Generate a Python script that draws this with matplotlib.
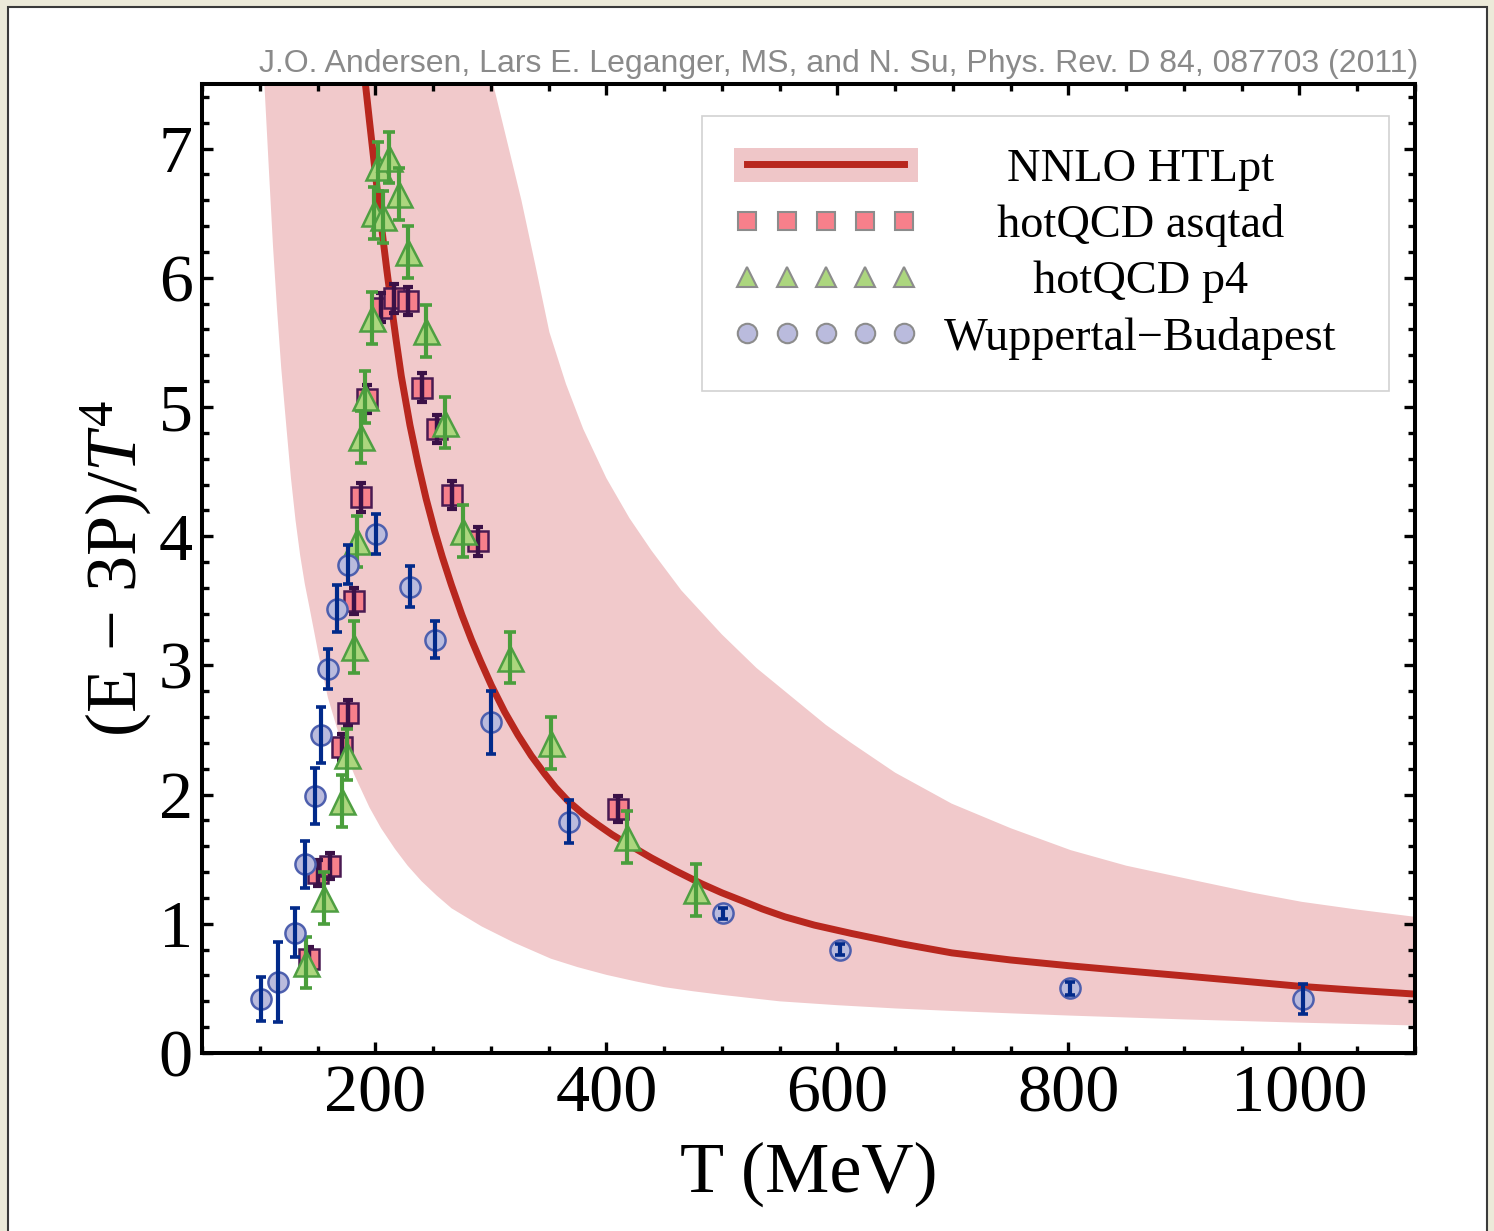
import numpy as np
import matplotlib
matplotlib.use("Agg")
import matplotlib.pyplot as plt
from matplotlib.patches import Rectangle, Patch
from matplotlib.lines import Line2D
from matplotlib.ticker import MultipleLocator

# ---------------- data ----------------
# NNLO HTLpt central curve
curve_T = [190.0, 195.0, 199.4, 203.0, 206.7, 210.0, 213.9, 218.0, 222.5, 230.0, 237.0,
           244.0, 251.4, 258.0, 265.8, 275.0, 283.2, 291.0, 300.5, 312.0, 323.6, 335.1,
           346.7, 356.0, 366.9, 380.0, 392.9, 405.0, 418.9, 439.0, 460.0, 482.4, 500.0,
           517.0, 535.0, 554.5, 580.0, 612.3, 655.6, 699.0, 750.0, 801.0, 850.0, 900.0,
           950.0, 1002.0, 1050.0, 1100.0]
curve_y = [7.62, 7.21, 6.86, 6.58, 6.30, 6.06, 5.79, 5.52, 5.24, 4.86, 4.56,
           4.29, 4.04, 3.84, 3.625, 3.39, 3.20, 3.035, 2.845, 2.64, 2.46, 2.30,
           2.16, 2.055, 1.95, 1.85, 1.765, 1.69, 1.615, 1.51, 1.41, 1.31, 1.24,
           1.18, 1.115, 1.054, 0.99, 0.925, 0.845, 0.775, 0.72, 0.675, 0.636, 0.597,
           0.557, 0.515, 0.485, 0.456]

# NNLO HTLpt uncertainty band
band_lo_T = [104, 108, 111.5, 115, 118.6, 123, 127, 131, 135, 139, 143, 151, 159, 170, 182,
             195, 205, 217, 228, 240, 253, 266, 292, 320, 352, 375, 400, 425, 450, 475,
             500, 550, 600, 650, 700, 750, 800, 900, 1000, 1100]
band_lo_y = [7.5, 6.82, 6.24, 5.75, 5.30, 4.85, 4.45, 4.12, 3.85, 3.63, 3.45, 3.08, 2.75, 2.42, 2.15,
             1.90, 1.74, 1.58, 1.45, 1.33, 1.22, 1.12, 0.98, 0.855, 0.73, 0.665, 0.605, 0.555, 0.51, 0.478,
             0.45, 0.40, 0.37, 0.345, 0.325, 0.307, 0.29, 0.26, 0.235, 0.213]
band_up_T = [302, 314, 326.5, 338.5, 350.7, 365, 380, 400, 420, 439, 465, 500, 530, 560,
             590, 612, 650, 699, 750, 802, 850, 915, 960, 1002, 1050, 1100]
band_up_y = [7.5, 7.06, 6.60, 6.10, 5.58, 5.18, 4.83, 4.45, 4.14, 3.89, 3.58, 3.24, 2.98, 2.76,
             2.54, 2.40, 2.17, 1.93, 1.74, 1.57, 1.45, 1.325, 1.24, 1.17, 1.11, 1.054]

# hotQCD asqtad
asq_T = [142.3, 150.4, 160.4, 170.8, 176.4, 181.5, 187.3, 193.1, 205.2, 216.2, 228.3,
         240.7, 253.4, 266.7, 289.0, 410.0]
asq_y = [0.73, 1.39, 1.45, 2.37, 2.63, 3.50, 4.30, 5.06, 5.77, 5.84, 5.82,
         5.15, 4.83, 4.32, 3.96, 1.89]
asq_err = [0.09, 0.10, 0.10, 0.10, 0.10, 0.10, 0.11, 0.11, 0.11, 0.11, 0.11,
           0.11, 0.11, 0.11, 0.11, 0.10]

# hotQCD p4
p4_T = [140.2, 155.8, 171.2, 175.7, 181.8, 184.1, 187.9, 191.3, 197.4, 198.9, 202.3,
        206.7, 211.8, 220.5, 228.3, 244.2, 260.6, 276.0, 316.7, 352.4, 418.3, 477.2]
p4_y = [0.70, 1.20, 1.95, 2.31, 3.14, 3.96, 4.77, 5.08, 5.69, 6.50, 6.86,
        6.47, 6.93, 6.65, 6.20, 5.59, 4.88, 4.04, 3.06, 2.40, 1.67, 1.26]
p4_err = [0.20, 0.20, 0.20, 0.20, 0.20, 0.20, 0.20, 0.20, 0.20, 0.20, 0.19,
          0.20, 0.20, 0.20, 0.20, 0.20, 0.20, 0.20, 0.20, 0.20, 0.20, 0.20]

# Wuppertal-Budapest
wb_T = [101.3, 115.7, 130.1, 139.4, 148.0, 152.6, 159.3, 167.1, 176.4, 200.6, 229.7,
        251.4, 300.5, 367.5, 501.2, 602.2, 801.4, 1002.7]
wb_y = [0.42, 0.55, 0.93, 1.46, 1.99, 2.46, 2.97, 3.44, 3.78, 4.02, 3.61,
        3.20, 2.56, 1.79, 1.08, 0.80, 0.50, 0.42]
wb_err = [0.17, 0.31, 0.19, 0.18, 0.215, 0.215, 0.155, 0.185, 0.15, 0.155, 0.16,
          0.14, 0.245, 0.165, 0.04, 0.04, 0.05, 0.115]

series_labels = ["NNLO HTLpt", "hotQCD asqtad", "hotQCD p4", "Wuppertal\u2212Budapest"]
x_label = "T (MeV)"
y_label = "(E \u2212 3P)/$T^4$"
citation = "J.O. Andersen, Lars E. Leganger, MS, and N. Su, Phys. Rev. D 84, 087703 (2011)"

# ---------------- style ----------------
plt.rcParams['font.family'] = ['Liberation Serif', 'DejaVu Serif']
plt.rcParams['mathtext.fontset'] = 'custom'
plt.rcParams['mathtext.rm'] = 'Liberation Serif'
plt.rcParams['mathtext.it'] = 'Liberation Serif:italic'

W, H = 1494, 1231
fig = plt.figure(figsize=(W / 100, H / 100), dpi=100)
fig.patch.set_facecolor('#ecead9')
fig.add_artist(Rectangle((8 / W, -0.02), (1487 - 8) / W, 1 - 7 / H + 0.02,
                         transform=fig.transFigure, facecolor='white',
                         edgecolor='#3a3a3a', lw=1.5, zorder=0))

ax = fig.add_axes([202 / W, (H - 1053) / H, (1415 - 202) / W, (1053 - 84) / H])
ax.set_facecolor('white')

band_col = '#f1c9cb'
line_col = '#b8271e'

ax.fill(band_lo_T + band_up_T[::-1], band_lo_y + band_up_y[::-1],
        facecolor=band_col, edgecolor='none', zorder=1)
ax.plot(curve_T, curve_y, color=line_col, lw=5, zorder=2, solid_joinstyle='round')

# asqtad
ax.plot(asq_T, asq_y, ls='none', marker='s', ms=14.5, mfc='#f7808b',
        mec='#4a1a52', mew=1.8, zorder=4)
ax.errorbar(asq_T, asq_y, yerr=asq_err, fmt='none', ecolor='#3b1147',
            elinewidth=3.2, capsize=3.8, capthick=3.0, zorder=5)

# p4
ax.plot(p4_T, p4_y, ls='none', marker='^', ms=18, mfc='#acd67e',
        mec='#4f9f42', mew=1.8, zorder=6)
ax.errorbar(p4_T, p4_y, yerr=p4_err, fmt='none', ecolor='#4a9e3c',
            elinewidth=3.0, capsize=4.0, capthick=2.6, zorder=7)

# Wuppertal-Budapest
ax.plot(wb_T, wb_y, ls='none', marker='o', ms=14.5, mfc='#babbdd',
        mec='#4d5fae', mew=1.8, zorder=8)
ax.errorbar(wb_T, wb_y, yerr=wb_err, fmt='none', ecolor='#022a8a',
            elinewidth=3.0, capsize=3.6, capthick=2.6, zorder=9)

ax.set_xlim(50, 1100)
ax.set_ylim(0, 7.5)
ax.xaxis.set_major_locator(MultipleLocator(200))
ax.xaxis.set_minor_locator(MultipleLocator(50))
ax.yaxis.set_major_locator(MultipleLocator(1))
ax.yaxis.set_minor_locator(MultipleLocator(0.2))
ax.tick_params(which='both', direction='in', top=True, right=True, width=2.4,
               color='black', labelsize=49)
ax.tick_params(which='major', length=8)
ax.tick_params(which='minor', length=5)
ax.tick_params(axis='y', pad=6.5)
ax.tick_params(axis='x', pad=8.5)
for s in ax.spines.values():
    s.set_linewidth(2.9)
    s.set_zorder(20)

ax.set_xlabel(x_label, fontsize=52, labelpad=11)
ax.set_ylabel(y_label, fontsize=52, labelpad=4)

fig.text(1418 / W, 1 - 72 / H, citation, ha='right', va='baseline',
         color='#8a8a8a', fontsize=23.0, family=['Liberation Sans', 'DejaVu Sans'])

# ---------------- legend ----------------
h_band = (Patch(facecolor='#efc6c8', edgecolor='none'),
          Line2D([], [], color=line_col, lw=5))
h_asq = Line2D([], [], ls='none', marker='s', ms=13, mfc='#f7808b', mec='#8c8c8c', mew=1.5)
h_p4 = Line2D([], [], ls='none', marker='^', ms=15, mfc='#acd67e', mec='#8c8c8c', mew=1.5)
h_wb = Line2D([], [], ls='none', marker='o', ms=14, mfc='#babbdd', mec='#8c8c8c', mew=1.5)

fs = 33.4
htp = 1.01
bp = 0.68
leg = ax.legend([h_band, h_asq, h_p4, h_wb], series_labels,
                loc='upper left', bbox_to_anchor=((702 - 202) / 1213, (1053 - 116) / 969),
                borderaxespad=0, fontsize=fs, numpoints=5, handlelength=4.1 - 2 * (bp - 0.62),
                handleheight=0.75, handletextpad=htp, labelspacing=0.285,
                borderpad=bp, frameon=True, fancybox=False, framealpha=1,
                edgecolor='#d2d2d2', facecolor='white')
leg.get_frame().set_linewidth(1.2)
leg.set_zorder(30)

fig.canvas.draw()
r = fig.canvas.get_renderer()
texts = leg.get_texts()
ws = [t.get_window_extent(r).width for t in texts]
mw = max(ws)
extra = htp * fs * 100 / 72 - 26
for t, w in zip(texts, ws):
    t.set_x((mw - w) / 2 - extra)

fig.savefig("out.png", dpi=100, facecolor=fig.get_facecolor())
